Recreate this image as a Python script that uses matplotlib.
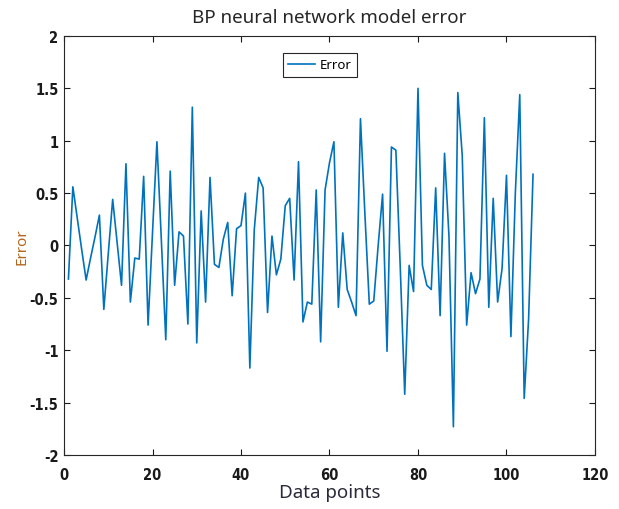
import matplotlib
matplotlib.use("Agg")
import matplotlib.pyplot as plt
from matplotlib.font_manager import FontProperties

# error values, one per data point (1..106)
points = list(range(1, 107))
errors = [
    -0.32, 0.56, 0.26, -0.04, -0.33, -0.12, 0.08, 0.29, -0.61, -0.08,
    0.44, 0.03, -0.38, 0.78, -0.54, -0.12, -0.13, 0.66, -0.76, 0.12,
    0.99, 0.05, -0.90, 0.71, -0.38, 0.13, 0.09, -0.75, 1.32, -0.93,
    0.33, -0.54, 0.65, -0.18, -0.21, 0.06, 0.22, -0.48, 0.16, 0.19,
    0.50, -1.17, 0.15, 0.65, 0.55, -0.64, 0.09, -0.28, -0.13, 0.38,
    0.45, -0.33, 0.80, -0.73, -0.54, -0.56, 0.53, -0.92, 0.53, 0.79,
    0.99, -0.59, 0.12, -0.42, -0.54, -0.67, 1.21, 0.30, -0.56, -0.53,
    0.00, 0.49, -1.01, 0.94, 0.91, -0.22, -1.42, -0.19, -0.44, 1.50,
    -0.19, -0.38, -0.42, 0.55, -0.67, 0.88, 0.09, -1.73, 1.46, 0.86,
    -0.76, -0.26, -0.46, -0.32, 1.22, -0.59, 0.45, -0.54, -0.22, 0.67,
    -0.87, 0.50, 1.44, -1.46, -0.70, 0.68,
]
xticks = [0, 20, 40, 60, 80, 100, 120]
yticks = [-2, -1.5, -1, -0.5, 0, 0.5, 1, 1.5, 2]
yticklabels = ["-2", "-1.5", "-1", "-0.5", "0", "0.5", "1", "1.5", "2"]

fig = plt.figure(figsize=(6.19, 5.10), dpi=100)
ax = fig.add_axes([0.1034, 0.1059, 0.8578, 0.8216])

ax.plot(points, errors, color="#0072BD", linewidth=1.2, label="Error")

ax.set_xlim(0, 120)
ax.set_ylim(-2, 2)
ax.set_xticks(xticks)
ax.set_yticks(yticks)
ax.set_yticklabels(yticklabels)

tick_fp = FontProperties(family=["Liberation Sans Narrow", "DejaVu Sans"],
                         weight="heavy", stretch="condensed", size=10.5)
for lab in ax.get_xticklabels() + ax.get_yticklabels():
    lab.set_fontproperties(tick_fp)

ax.tick_params(direction="in", top=True, right=True, length=4, width=0.8,
               colors="#1a1a1a")
ax.tick_params(axis="x", pad=9)
ax.tick_params(axis="y", pad=4)
for sp in ax.spines.values():
    sp.set_color("#262626")
    sp.set_linewidth(0.8)

fig.text(0.532, 1 - 18 / 510, "BP neural network model error", fontsize=13.5,
         family="Noto Sans", color="#262626", ha="center", va="center")
ax.set_xlabel("Data points", fontsize=13.5, family="Noto Sans", color="#2a2a3a",
              va="center")
ax.xaxis.set_label_coords(0.5, -0.088)
ax.set_ylabel("Error", fontsize=11, family="Noto Sans", color="#B5651D",
              va="center")
ax.yaxis.set_label_coords(-0.079, 0.5)

leg = ax.legend(loc="upper center", bbox_to_anchor=(0.482, 0.959),
                prop={"family": "Noto Sans", "size": 9.5}, fancybox=False,
                framealpha=1, edgecolor="#262626", handlelength=2.0,
                borderpad=0.4, handletextpad=0.4, borderaxespad=0)
leg.get_frame().set_linewidth(0.8)

fig.savefig("out.png", dpi=100)
